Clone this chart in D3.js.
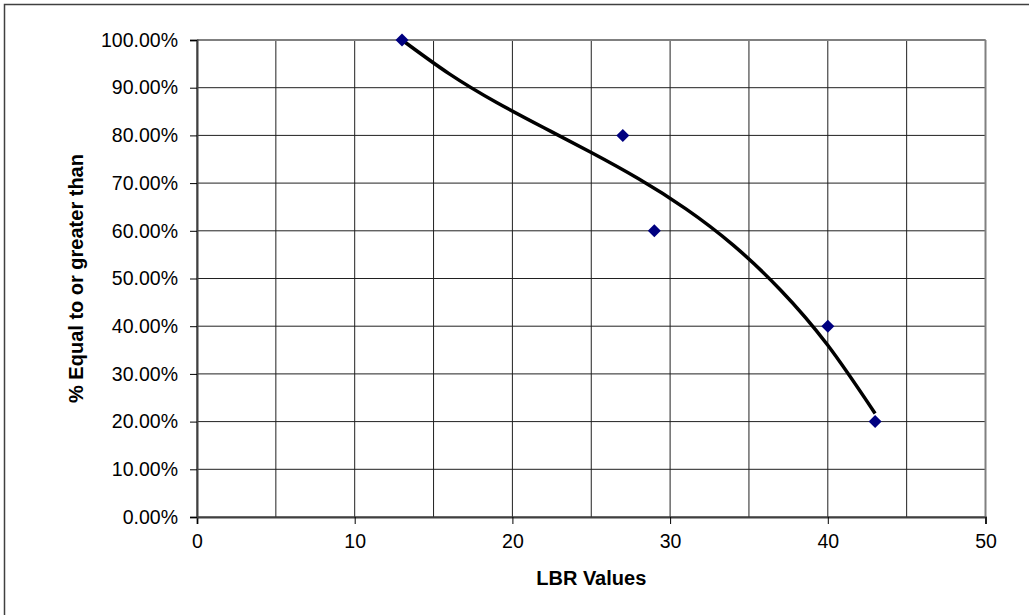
<!DOCTYPE html>
<html><head><meta charset="utf-8">
<script src="https://cdn.jsdelivr.net/npm/d3@7"></script>
<style>body{margin:0;background:#fff}svg{display:block}text{font-family:"Liberation Sans",Arial,sans-serif}</style>
</head><body><svg id="c" width="1029" height="615"></svg>
<script>
const lbr = [13, 27, 29, 40, 43];
const pct = [1.00, 0.80, 0.60, 0.40, 0.20];
// trendline
const trendX = [13, 16, 19, 22, 25, 28, 31, 34, 37, 40, 43];
const trendY = [1.000, 0.929, 0.869, 0.816, 0.764, 0.709, 0.646, 0.570, 0.476, 0.360, 0.217];
const xTicks = [0, 10, 20, 30, 40, 50];
const xGrid = [0, 5, 10, 15, 20, 25, 30, 35, 40, 45, 50];
const yTicks = [0, 0.1, 0.2, 0.3, 0.4, 0.5, 0.6, 0.7, 0.8, 0.9, 1.0];

const svg = d3.select("#c");
svg.append("rect").attr("x",4.5).attr("y",4.5).attr("width",1040).attr("height",630)
  .attr("fill","#fff").attr("stroke","#404040").attr("stroke-width",1.5);

const L=197,R=985.5,T=40,B=517;
const x = d3.scaleLinear().domain([0,50]).range([L,R]);
const y = d3.scaleLinear().domain([0,1]).range([B,T]);

const g = svg.append("g");
g.selectAll(".vg").data(xGrid).join("line")
  .attr("x1",d=>x(d)).attr("x2",d=>x(d)).attr("y1",T).attr("y2",B)
  .attr("stroke","#202020").attr("stroke-width",1);
g.selectAll(".hg").data(yTicks).join("line")
  .attr("x1",L).attr("x2",R).attr("y1",d=>y(d)).attr("y2",d=>y(d))
  .attr("stroke","#202020").attr("stroke-width",1);
g.append("line").attr("x1",L).attr("x2",R).attr("y1",T).attr("y2",T).attr("stroke","#808080").attr("stroke-width",2);
g.append("line").attr("x1",R).attr("x2",R).attr("y1",T).attr("y2",B).attr("stroke","#808080").attr("stroke-width",2);

const xAxis = d3.axisBottom(x).tickValues(xTicks).tickSize(7).tickPadding(10).tickFormat(d3.format("d"));
const ax = svg.append("g").attr("transform",`translate(0,${B})`).call(xAxis);
ax.select(".domain").attr("stroke","#404040").attr("stroke-width",2);
ax.selectAll(".tick line").attr("stroke","#000");
ax.selectAll("text").attr("font-size","19.5px").attr("fill","#000");

const yAxis = d3.axisLeft(y).tickValues(yTicks).tickSize(7).tickPadding(12).tickFormat(d3.format(".2%"));
const ay = svg.append("g").attr("transform",`translate(${L},0)`).call(yAxis);
ay.select(".domain").attr("stroke","#404040").attr("stroke-width",2);
ay.selectAll(".tick line").attr("stroke","#000");
ay.selectAll("text").attr("font-size","19.5px").attr("fill","#000");

const line = d3.line().x(d=>x(d[0])).y(d=>y(d[1])).curve(d3.curveNatural);
svg.append("path").datum(trendX.map((v,i)=>[v,trendY[i]])).attr("d",line)
  .attr("fill","none").attr("stroke","#000").attr("stroke-width",3.5);

svg.selectAll(".pt").data(lbr.map((v,i)=>[v,pct[i]])).join("path")
  .attr("transform",d=>`translate(${x(d[0])},${y(d[1])})`)
  .attr("d","M0,-6.5L6.5,0L0,6.5L-6.5,0Z").attr("fill","#000080");

svg.append("text").attr("x",(L+R)/2).attr("y",585).attr("text-anchor","middle")
  .attr("font-size","20px").attr("font-weight","bold").text("LBR Values");
svg.append("text").attr("transform",`translate(83,${(T+B)/2}) rotate(-90)`).attr("text-anchor","middle")
  .attr("font-size","20px").attr("font-weight","bold").text("% Equal to or greater than");
</script></body></html>
